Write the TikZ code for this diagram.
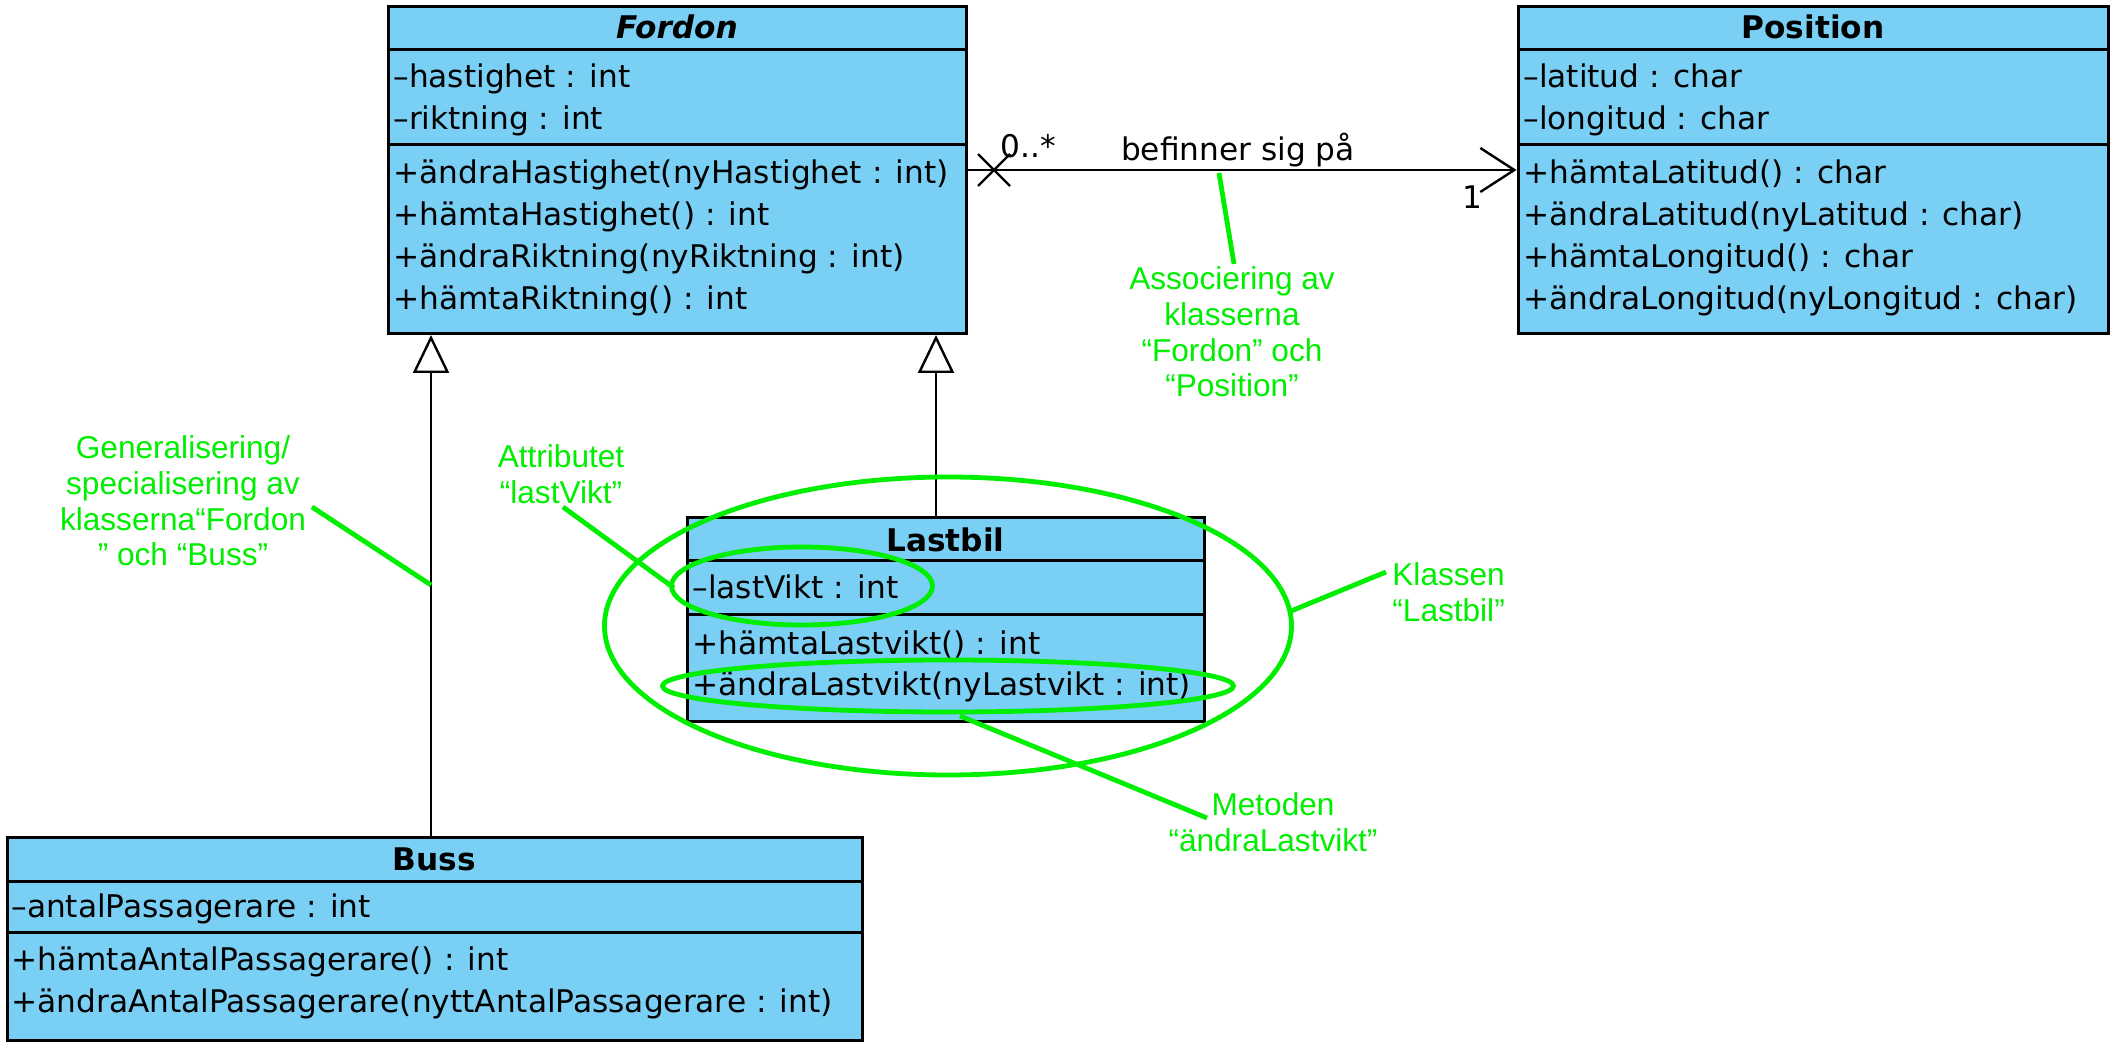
\documentclass[tikz,border=0pt]{standalone}
\usepackage{fontspec}
\setmainfont{DejaVu Sans}
\newfontfamily\gfont{Liberation Sans}
\usetikzlibrary{arrows.meta,shapes.geometric}
\definecolor{umlblue}{RGB}{122,207,245}
\definecolor{anngreen}{RGB}{0,238,0}
\begin{document}
\begin{tikzpicture}[x=0.5pt,y=-0.5pt,
  umlbox/.style={draw=black,fill=umlblue,line width=1.5pt,rectangle,inner sep=0pt},
  sepline/.style={line width=1.5pt},
  member/.style={anchor=mid west,inner sep=0pt,yshift=-3pt,font=\fontsize{15.6pt}{18pt}\selectfont},
  umltitle/.style={inner sep=0pt,font=\fontsize{15.6pt}{18pt}\selectfont\bfseries},
  conn/.style={line width=1.2pt},
  lbl/.style={inner sep=0pt,font=\fontsize{15.6pt}{18pt}\selectfont},
  note/.style={text=anngreen,inner sep=0pt,align=center,font=\gfont\fontsize{15.8pt}{17.8pt}\selectfont},
  noteline/.style={draw=anngreen,line width=2.4pt},
  ring/.style={ellipse,draw=anngreen,line width=2.4pt,inner sep=0pt}
]
\useasboundingbox[fill=white] (0,0) rectangle (2121,1053);

% ---- Fordon
\node[umlbox,minimum width=289pt,minimum height=163.5pt] (fordon) at (677,170.5) {};
\draw[sepline] (fordon.west |- 0,50) -- (fordon.east |- 0,50);
\draw[sepline] (fordon.west |- 0,145) -- (fordon.east |- 0,145);
\node[umltitle] (fordonT) at (677,27) {\itshape Fordon};
\node[member] (f1) at (393,76) {–hastighet : int};
\node[member] (f2) at (393,118) {–riktning : int};
\node[member] (f3) at (393,172) {+ändraHastighet(nyHastighet : int)};
\node[member] (f4) at (393,214) {+hämtaHastighet() : int};
\node[member] (f5) at (393,256) {+ändraRiktning(nyRiktning : int)};
\node[member] (f6) at (393,298) {+hämtaRiktning() : int};

% ---- Position
\node[umlbox,minimum width=295pt,minimum height=163.5pt] (position) at (1813,170.5) {};
\draw[sepline] (position.west |- 0,50) -- (position.east |- 0,50);
\draw[sepline] (position.west |- 0,145) -- (position.east |- 0,145);
\node[umltitle] (positionT) at (1813,27) {Position};
\node[member] (p1) at (1523,76) {–latitud : char};
\node[member] (p2) at (1523,118) {–longitud : char};
\node[member] (p3) at (1523,172) {+hämtaLatitud() : char};
\node[member] (p4) at (1523,214) {+ändraLatitud(nyLatitud : char)};
\node[member] (p5) at (1523,256) {+hämtaLongitud() : char};
\node[member] (p6) at (1523,298) {+ändraLongitud(nyLongitud : char)};

% ---- Lastbil
\node[umlbox,minimum width=258.5pt,minimum height=101.5pt] (lastbil) at (945.5,619.5) {};
\draw[sepline] (lastbil.west |- 0,560) -- (lastbil.east |- 0,560);
\draw[sepline] (lastbil.west |- 0,614) -- (lastbil.east |- 0,614);
\node[umltitle] (lastbilT) at (945.5,540) {Lastbil};
\node[member] (l1) at (692,587) {–lastVikt : int};
\node[member] (l2) at (692,643) {+hämtaLastvikt() : int};
\node[member] (l3) at (692,684) {+ändraLastvikt(nyLastvikt : int)};

% ---- Buss
\node[umlbox,minimum width=427.5pt,minimum height=101.5pt] (buss) at (434.5,938.5) {};
\draw[sepline] (buss.west |- 0,881) -- (buss.east |- 0,881);
\draw[sepline] (buss.west |- 0,932) -- (buss.east |- 0,932);
\node[umltitle] (bussT) at (434.5,859) {Buss};
\node[member] (b1) at (11,906) {–antalPassagerare : int};
\node[member] (b2) at (11,959) {+hämtaAntalPassagerare() : int};
\node[member] (b3) at (11,1001) {+ändraAntalPassagerare(nyttAntalPassagerare : int)};

% ---- generalisation
\coordinate (bussJoin) at (431,837);
\coordinate (fordonJoinB) at (431,335);
\coordinate (lastbilJoin) at (936,518);
\coordinate (fordonJoinL) at (936,335);
\draw[conn,-{Triangle[open,length=19pt,width=18pt]}] (bussJoin) -- (fordonJoinB);
\draw[conn,-{Triangle[open,length=19pt,width=18pt]}] (lastbilJoin) -- (fordonJoinL);

% ---- association
\coordinate (assocY) at (0,170);
\draw[conn,-{Straight Barb[length=17pt,width=22pt]}] (fordon.east |- assocY) -- (position.west |- assocY);
\coordinate (xa) at (978,154); \coordinate (xb) at (1010,186);
\coordinate (xc) at (978,186); \coordinate (xd) at (1010,154);
\draw[conn] (xa) -- (xb) (xc) -- (xd);
\node[lbl] (mult0) at (1028,146) {0..*};
\node[lbl] (mult1) at (1472,197) {1};
\node[lbl] (assocLbl) at (1238,150) {befinner sig på};

% ---- annotation ellipses
\node[ring,minimum width=343.5pt,minimum height=149pt] (ellBig) at (948,626) {};
\node[ring,minimum width=130.5pt,minimum height=39pt] (ellAttr) at (802,586) {};
\node[ring,minimum width=285.5pt,minimum height=26pt] (ellMeth) at (948,686) {};

% ---- annotation notes
\node[note] (assocNote) at (1232,332) {Associering av\\klasserna\\“Fordon” och\\“Position”};
\node[note] (genNote) at (183,501) {Generalisering/\\specialisering av\\klasserna“Fordon\\” och “Buss”};
\node[note] (attrNote) at (561,474) {Attributet\\“lastVikt”};
\node[note,anchor=west,align=left] (klassNote) at (1392,592) {Klassen\\“Lastbil”};
\node[note] (metNote) at (1273,822) {Metoden\\“ändraLastvikt”};

\coordinate (aS) at (1219,173); \coordinate (aE) at (1234,264);
\coordinate (gS) at (312,507); \coordinate (gE) at (431,585);
\coordinate (tS) at (563,507); \coordinate (tE) at (674,588);
\coordinate (kS) at (1291,611); \coordinate (kE) at (1386,572);
\coordinate (mS) at (960,716); \coordinate (mE) at (1207,818);
\draw[noteline] (aS) -- (aE);
\draw[noteline] (gS) -- (gE);
\draw[noteline] (tS) -- (tE);
\draw[noteline] (kS) -- (kE);
\draw[noteline] (mS) -- (mE);
\end{tikzpicture}
\end{document}
